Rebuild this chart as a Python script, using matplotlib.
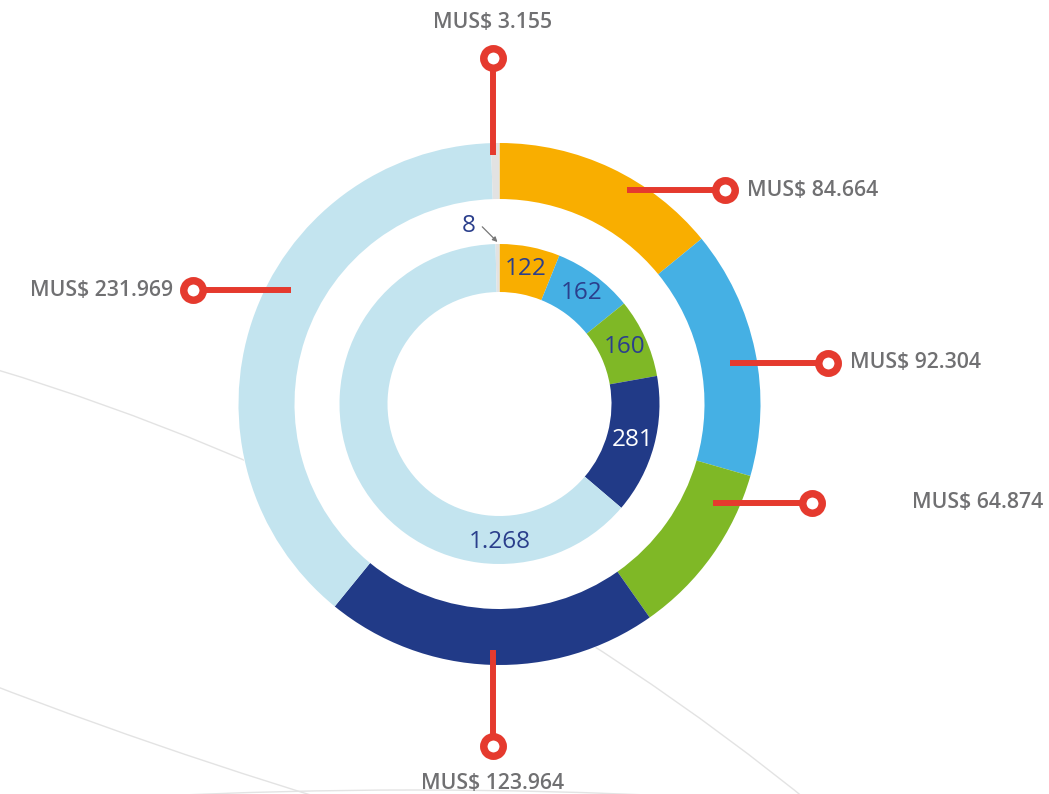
import numpy as np
import matplotlib.pyplot as plt
from matplotlib.patches import Circle

plt.rcParams['font.family'] = ['Open Sans', 'DejaVu Sans']

# data, clockwise from 12 o'clock
segments = ['A', 'B', 'C', 'D', 'E', 'F']
outer_values = [84.664, 92.304, 64.874, 123.964, 231.969, 3.155]   # MUS$
inner_values = [122, 162, 160, 281, 1268, 8]
colors = ['#F9AE00', '#45B0E4', '#7FB826', '#213A87', '#C3E4EF', '#E2E2E2']
inner_text_colors = ['#2B3F8C', '#2B3F8C', '#2B3F8C', 'white', '#2B3F8C', '#2B3F8C']

W, H = 1049, 794
cx, cy = 499.5, 390
r_out, w_out = 261, 56
r_in, w_in = 160, 48

red = '#E53A2E'
label_gray = '#707072'

# leader layout: anchor angle, anchor radius, direction, length, text gap
leaders = [
    (59.2, 249, 'right', 98, 22),
    (10.1, 234, 'right', 98, 22),
    (-24.9, 235, 'right', 99, 100),
    (-91.5, 246, 'down', 96, 38),
    (151.4, 238, 'left', 98, 20),
    (91.5, 249, 'up', 97, 36),
]


def fmt_thousands(v):
    return f"{v:,}".replace(',', '.')


fig = plt.figure(figsize=(W / 100, H / 100), dpi=100)
ax = fig.add_axes([0, 0, 1, 1])

# faint background arcs
for (bx, by, br) in [(-704, -1871, 2400), (1784, 4777, 5000), (415, -5396, 5400)]:
    ax.add_patch(Circle((bx, by), br, fill=False, edgecolor='#E3E3E3', lw=1, zorder=0))
ax.add_patch(Circle((cx, cy), r_out, color='white', zorder=1))

ax.pie(outer_values, radius=r_out, center=(cx, cy), startangle=90, counterclock=False,
       colors=colors, frame=True,
       wedgeprops=dict(width=w_out, linewidth=0, zorder=2))
ax.pie(inner_values, radius=r_in, center=(cx, cy), startangle=90, counterclock=False,
       colors=colors, frame=True,
       wedgeprops=dict(width=w_in, linewidth=0, zorder=2))

# inner value labels
total_in = sum(inner_values)
start = 90.0
r_lab = 138
for i, v in enumerate(inner_values):
    span = v / total_in * 360
    mid = start - span / 2
    start -= span
    txt = fmt_thousands(v)
    if i == 5:
        # tiny slice: label outside with a small arrow
        a = np.radians(mid)
        tip = (cx + (r_in + 2) * np.cos(a), cy + (r_in + 2) * np.sin(a))
        ax.annotate(txt, xy=tip, xytext=(tip[0] - 29, tip[1] + 16),
                    fontsize=17.5, color=inner_text_colors[i], ha='center', va='center',
                    zorder=5,
                    arrowprops=dict(arrowstyle='-|>', color='#777777', lw=0.9,
                                    mutation_scale=7, shrinkA=3, shrinkB=0,
                                    connectionstyle='angle,angleA=0,angleB=-45,rad=0'))
        continue
    if i == 4:
        mid = -90
    a = np.radians(mid)
    ax.text(cx + r_lab * np.cos(a), cy + r_lab * np.sin(a), txt, fontsize=17.5,
            color=inner_text_colors[i], ha='center', va='center', zorder=5)

# outer value labels with red leaders
dirs = {'right': (1, 0), 'left': (-1, 0), 'up': (0, 1), 'down': (0, -1)}
aligns = {'right': 'left', 'left': 'right', 'up': 'center', 'down': 'center'}
for v, (ang, rad, d, length, gap) in zip(outer_values, leaders):
    a = np.radians(ang)
    x0, y0 = cx + rad * np.cos(a), cy + rad * np.sin(a)
    dx, dy = dirs[d]
    x1, y1 = x0 + dx * length, y0 + dy * length
    ax.plot([x0, x1], [y0, y1], color=red, lw=4.3, solid_capstyle='butt', zorder=4)
    ax.plot(x1, y1, 'o', ms=14, mew=5.4, mec=red, mfc='white', zorder=5)
    ax.text(x1 + dx * gap, y1 + dy * gap, f"MUS$ {v:.3f}", fontsize=15.3,
            fontweight='semibold', color=label_gray, ha=aligns[d], va='center', zorder=5)

ax.set_xlim(0, W)
ax.set_ylim(0, H)
ax.set_aspect('equal')
ax.axis('off')

fig.savefig('out.png', dpi=100, facecolor='white')
